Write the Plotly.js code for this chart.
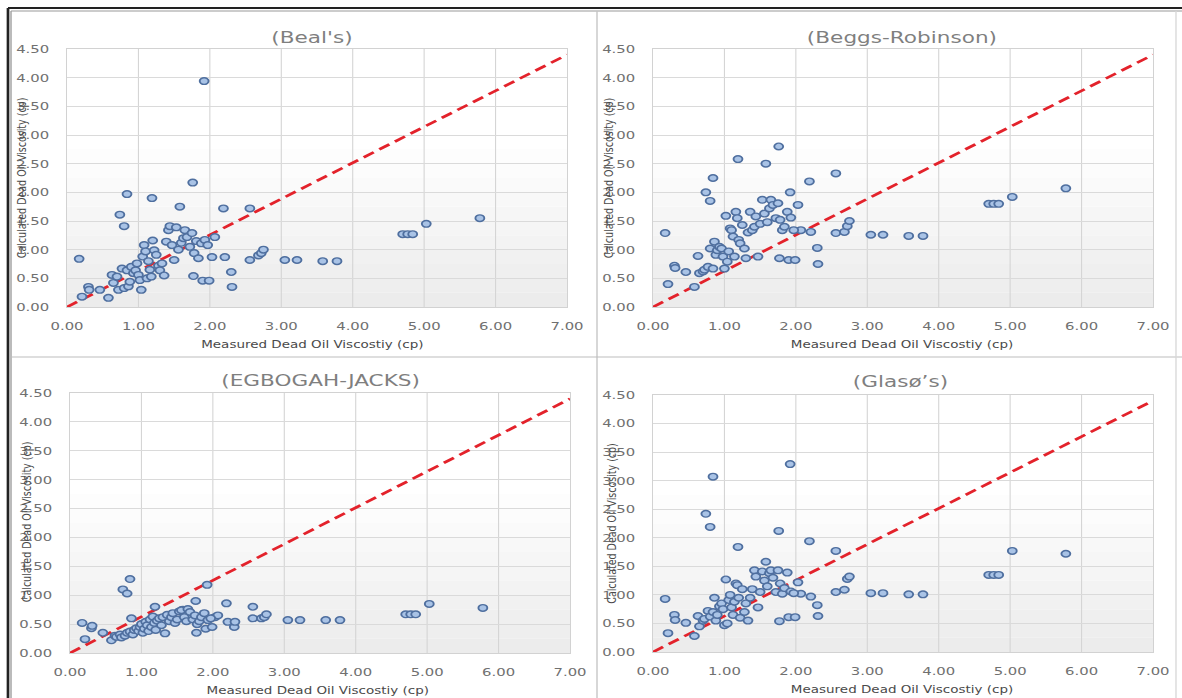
<!DOCTYPE html>
<html>
<head>
<meta charset="utf-8">
<script src="https://cdn.plot.ly/plotly-3.0.1.min.js"></script>
<style>
  html, body { margin:0; padding:0; background:#ffffff; overflow:hidden; }
  #wrap { width:1182px; height:698px; overflow:hidden; position:relative; }
  #chart { width:876px; height:698px; transform-origin:0 0; transform:scaleX(1.349315); }
</style>
</head>
<body>
<div id="wrap"><div id="chart"></div></div>
<script>
// ---- data ----
const measured = [
  0.17, 0.21, 0.30, 0.31, 0.46, 0.58, 0.63, 0.65, 0.70, 0.72,
  0.74, 0.80, 0.84, 1.19, 1.58, 1.76, 1.92, 2.19, 2.56,
  1.77, 1.90, 1.99, 2.03, 2.07, 2.21, 2.30, 2.31, 2.56, 2.68, 2.72, 2.75, 3.05, 3.22, 3.58, 3.78, 4.70, 4.77, 4.84, 5.03, 5.78,
  0.77, 0.80, 0.84, 0.86, 0.88, 0.90, 0.93, 0.96, 0.98, 1.00, 1.02, 1.04, 1.06, 1.08, 1.10,
  1.12, 1.14, 1.16, 1.18, 1.20, 1.22, 1.25, 1.28, 1.30, 1.33, 1.36, 1.39, 1.42, 1.44, 1.47,
  1.50, 1.53, 1.56, 1.60, 1.63, 1.65, 1.68, 1.72, 1.75, 1.78, 1.81, 1.84, 1.88, 1.93, 1.97
];
const bealCalc = [
  0.84, 0.18, 0.35, 0.30, 0.30, 0.16, 0.56, 0.42, 0.53, 0.30,
  1.61, 1.41, 1.97, 1.90, 1.75, 2.17, 3.94, 1.72, 1.72,
  0.54, 0.46, 0.46, 0.87, 1.22, 0.87, 0.61, 0.35, 0.82, 0.90, 0.94, 1.00, 0.82, 0.82, 0.80, 0.80, 1.27, 1.27, 1.27, 1.45, 1.55,
  0.67, 0.33, 0.64, 0.36, 0.44, 0.70, 0.59, 0.64, 0.76, 0.56, 0.47, 0.30, 0.88, 1.08, 0.97,
  0.50, 0.80, 0.65, 0.53, 1.16, 0.99, 0.91, 0.72, 0.64, 0.76, 0.55, 1.14, 1.34, 1.41, 1.08,
  0.82, 1.39, 1.00, 1.12, 1.20, 1.34, 1.22, 1.05, 1.29, 0.94, 1.15, 0.85, 1.11, 1.17, 1.08
];
const beggsCalc = [
  1.29, 0.40, 0.72, 0.68, 0.61, 0.35, 0.89, 0.59, 0.62, 0.65,
  2.00, 1.85, 2.25, 2.58, 2.50, 2.80, 2.00, 2.19, 2.33,
  0.85, 0.82, 0.82, 1.78, 1.34, 1.31, 1.03, 0.75, 1.29, 1.31, 1.41, 1.50, 1.26, 1.26, 1.24, 1.24, 1.80, 1.80, 1.80, 1.92, 2.07,
  0.70, 1.02, 0.67, 1.14, 0.91, 0.99, 1.05, 1.02, 0.88, 0.67, 1.59, 0.79, 0.97, 1.37, 1.34,
  1.23, 0.88, 1.66, 1.55, 1.17, 1.11, 1.43, 1.02, 0.85, 1.30, 1.66, 1.34, 1.40, 1.58, 0.88,
  1.45, 1.87, 1.63, 1.48, 1.72, 1.87, 1.78, 1.55, 1.81, 1.52, 1.34, 1.40, 1.66, 1.56, 1.34
];
const egbogahCalc = [
  0.52, 0.24, 0.43, 0.47, 0.35, 0.22, 0.30, 0.28, 0.32, 0.27,
  1.10, 1.03, 1.28, 0.80, 0.75, 0.90, 1.18, 0.86, 0.80,
  0.35, 0.42, 0.45, 0.62, 0.65, 0.54, 0.45, 0.54, 0.60, 0.60, 0.62, 0.67, 0.57, 0.57, 0.57, 0.57, 0.67, 0.67, 0.67, 0.85, 0.78,
  0.30, 0.35, 0.37, 0.60, 0.32, 0.40, 0.43, 0.38, 0.45, 0.50, 0.35, 0.42, 0.54, 0.48, 0.38,
  0.58, 0.45, 0.63, 0.52, 0.40, 0.56, 0.60, 0.48, 0.62, 0.34, 0.66, 0.55, 0.62, 0.69, 0.52,
  0.58, 0.72, 0.74, 0.62, 0.55, 0.76, 0.71, 0.58, 0.65, 0.50, 0.55, 0.62, 0.69, 0.57, 0.60
];
const glasoCalc = [
  0.93, 0.33, 0.65, 0.56, 0.51, 0.28, 0.63, 0.45, 0.55, 0.58,
  2.42, 2.19, 3.07, 1.84, 1.58, 2.12, 3.29, 1.94, 1.77,
  0.54, 0.61, 0.61, 1.22, 1.02, 0.97, 0.82, 0.63, 1.05, 1.09, 1.28, 1.32, 1.03, 1.03, 1.01, 1.01, 1.35, 1.35, 1.35, 1.77, 1.72,
  0.72, 0.62, 0.70, 0.95, 0.55, 0.65, 0.80, 0.85, 0.75, 0.47, 1.27, 0.50, 0.91, 1.00, 0.78,
  0.65, 0.88, 1.20, 1.17, 0.95, 0.60, 1.10, 0.70, 0.85, 0.55, 0.95, 1.10, 1.43, 1.32, 0.78,
  1.05, 1.41, 1.25, 1.15, 1.38, 1.43, 1.30, 1.05, 1.43, 1.20, 1.02, 1.12, 1.39, 1.06, 1.03
];
const refLineX = [0, 7];
const refLineY = [0, 4.4];
const panelTitles = ["(Beal's)", "(Beggs-Robinson)", "(EGBOGAH-JACKS)", "(Glasø’s)"];
const xTitle = "Measured Dead Oil Viscostiy (cp)";
const yTitle = "Calculated Dead Oil Viscosity (cp)";
const xTickVals = [0, 1, 2, 3, 4, 5, 6, 7];
const yTickVals = [0, 0.5, 1, 1.5, 2, 2.5, 3, 3.5, 4, 4.5];

// ---- layout geometry (fractions of the page) ----
const FW = 1182, FH = 698;
const fx = p => p / FW;
const fy = p => 1 - p / FH;
const panels = [
  { ys: bealCalc,    xd: [fx(67),  fx(567)],  yd: [fy(307), fy(49)],  title: [fx(312), fy(37)],  xt: [fx(313), fy(344)], yt: [fx(22),  fy(178)] },
  { ys: beggsCalc,   xd: [fx(653), fx(1153)], yd: [fy(307), fy(49)],  title: [fx(902), fy(37)],  xt: [fx(902), fy(344)], yt: [fx(609), fy(178)] },
  { ys: egbogahCalc, xd: [fx(70),  fx(570)],  yd: [fy(653), fy(393)], title: [fx(320), fy(380)], xt: [fx(318), fy(690)], yt: [fx(26),  fy(522)] },
  { ys: glasoCalc,   xd: [fx(653), fx(1153)], yd: [fy(652), fy(395)], title: [fx(900), fy(381)], xt: [fx(902), fy(689)], yt: [fx(611), fy(523)] }
];

const tickFont = { family: 'DejaVu Sans', size: 11, color: '#707070' };
const traces = [];
const layout = {
  width: 876, height: 698,
  margin: { l: 0, r: 0, t: 0, b: 0 },
  paper_bgcolor: '#ffffff', plot_bgcolor: 'rgba(0,0,0,0)',
  showlegend: false,
  annotations: [], shapes: []
};

// gradient colours (bottom grey -> white)
const bandEdges = [0, 0.25, 0.5, 0.75, 1.0, 1.25, 1.5, 1.75, 2.0, 2.25, 2.5, 2.75, 3.0];

panels.forEach((p, i) => {
  const n = i === 0 ? '' : String(i + 1);
  const xa = 'x' + n, ya = 'y' + n;
  layout['xaxis' + n] = {
    domain: p.xd, anchor: ya, range: [0, 7], tickvals: xTickVals, tickformat: '.2f',
    showgrid: true, gridcolor: '#d4d4d4', gridwidth: 0.8, zeroline: false,
    showline: true, linecolor: '#d2d2d2', linewidth: 1, mirror: true,
    ticks: '', tickangle: 0, tickfont: tickFont, ticklabelstandoff: 9, fixedrange: true
  };
  layout['yaxis' + n] = {
    domain: p.yd, anchor: xa, range: [0, 4.5], tickvals: yTickVals, tickformat: '.2f',
    showgrid: true, gridcolor: '#dadada', gridwidth: 1, zeroline: false,
    showline: true, linecolor: '#d2d2d2', linewidth: 1, mirror: true,
    ticks: '', tickfont: tickFont, ticklabelstandoff: 10, fixedrange: true
  };
  // background gradient bands
  for (let k = 0; k < bandEdges.length - 1; k++) {
    const t = k / (bandEdges.length - 2);
    const v = Math.round(236 + (255 - 236) * t);
    layout.shapes.push({
      type: 'rect', xref: xa, yref: ya, x0: 0, x1: 7, y0: bandEdges[k], y1: bandEdges[k + 1],
      fillcolor: `rgb(${v},${v},${v})`, line: { width: 0 }, layer: 'below'
    });
  }
  traces.push({
    type: 'scatter', mode: 'lines', x: refLineX, y: refLineY, xaxis: xa, yaxis: ya,
    line: { color: '#e3222b', width: 2.6, dash: '9px,5px' }, hoverinfo: 'skip'
  });
  traces.push({
    type: 'scatter', mode: 'markers', x: measured, y: p.ys, xaxis: xa, yaxis: ya,
    marker: { symbol: 'circle', size: 6.6, color: '#a9c3e6', line: { color: '#4f6f9f', width: 1.4 } },
    cliponaxis: false
  });
  layout.annotations.push({
    text: panelTitles[i], xref: 'paper', yref: 'paper', x: p.title[0], y: p.title[1],
    xanchor: 'center', yanchor: 'middle', showarrow: false,
    font: { family: 'DejaVu Sans', size: 16, color: '#7f7f7f' }
  });
  layout.annotations.push({
    text: xTitle, xref: 'paper', yref: 'paper', x: p.xt[0], y: p.xt[1],
    xanchor: 'center', yanchor: 'middle', showarrow: false,
    font: { family: 'DejaVu Sans', size: 10, color: '#4a4a4a' }
  });
  layout.annotations.push({
    text: yTitle, xref: 'paper', yref: 'paper', x: p.yt[0], y: p.yt[1],
    xanchor: 'center', yanchor: 'middle', showarrow: false, textangle: -90,
    font: { family: 'DejaVu Sans', size: 9.5, color: '#4a4a4a' }
  });
});

// frame lines
const frame = [
  { x0: fx(8),  x1: fx(8),    y0: 0,        y1: fy(8),   color: '#222222', w: 2 },
  { x0: fx(11), x1: fx(11),   y0: 0,        y1: fy(11),  color: '#9a9a9a', w: 1 },
  { x0: fx(8),  x1: 1,        y0: fy(8),    y1: fy(8),   color: '#222222', w: 2 },
  { x0: fx(11), x1: 1,        y0: fy(11),   y1: fy(11),  color: '#9a9a9a', w: 1 },
  { x0: fx(597),x1: fx(597),  y0: 0,        y1: fy(11),  color: '#c4c4c4', w: 1 },
  { x0: fx(11), x1: 1,        y0: fy(357),  y1: fy(357), color: '#bdbdbd', w: 1 },
  { x0: fx(1176),x1: fx(1176),y0: 0,        y1: fy(11),  color: '#d8d8d8', w: 1 }
];
frame.forEach(f => layout.shapes.push({
  type: 'line', xref: 'paper', yref: 'paper', x0: f.x0, x1: f.x1, y0: f.y0, y1: f.y1,
  line: { color: f.color, width: f.w }, layer: 'above'
}));

Plotly.newPlot('chart', traces, layout, { displayModeBar: false, staticPlot: true });
</script>
</body>
</html>
